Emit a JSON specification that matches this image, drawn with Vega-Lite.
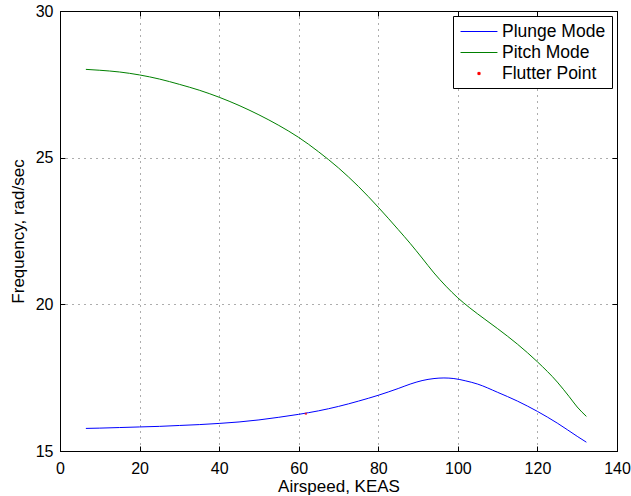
{
  "$schema": "https://vega.github.io/schema/vega-lite/v6.json",
  "width": 557,
  "height": 440,
  "autosize": {"type": "none"},
  "padding": {"left": 60, "top": 11, "right": 14, "bottom": 45},
  "background": "white",
  "config": {
    "view": {"stroke": "black", "strokeWidth": 1},
    "font": "Liberation Sans",
    "axis": {
      "domainColor": "black",
      "tickColor": "black",
      "tickSize": -5,
      "labelColor": "black",
      "labelFontSize": 16,
      "labelFont": "Liberation Sans",
      "titleFont": "Liberation Sans",
      "titleFontSize": 17,
      "titleFontWeight": "normal",
      "titleColor": "black",
      "gridColor": "#333",
      "gridDash": [1, 5],
      "gridOpacity": 0.8
    },
    "legend": {
      "labelFont": "Liberation Sans",
      "labelFontSize": 17.5,
      "labelColor": "black"
    }
  },
  "data": {
    "values": [
      {"airspeed": 6.5, "freq": 15.77, "series": "Plunge Mode"},
      {"airspeed": 10, "freq": 15.78, "series": "Plunge Mode"},
      {"airspeed": 15, "freq": 15.80, "series": "Plunge Mode"},
      {"airspeed": 20, "freq": 15.82, "series": "Plunge Mode"},
      {"airspeed": 25, "freq": 15.84, "series": "Plunge Mode"},
      {"airspeed": 30, "freq": 15.87, "series": "Plunge Mode"},
      {"airspeed": 35, "freq": 15.90, "series": "Plunge Mode"},
      {"airspeed": 40, "freq": 15.94, "series": "Plunge Mode"},
      {"airspeed": 45, "freq": 15.99, "series": "Plunge Mode"},
      {"airspeed": 50, "freq": 16.06, "series": "Plunge Mode"},
      {"airspeed": 55, "freq": 16.15, "series": "Plunge Mode"},
      {"airspeed": 60, "freq": 16.25, "series": "Plunge Mode"},
      {"airspeed": 65, "freq": 16.37, "series": "Plunge Mode"},
      {"airspeed": 70, "freq": 16.52, "series": "Plunge Mode"},
      {"airspeed": 75, "freq": 16.70, "series": "Plunge Mode"},
      {"airspeed": 80, "freq": 16.90, "series": "Plunge Mode"},
      {"airspeed": 85, "freq": 17.13, "series": "Plunge Mode"},
      {"airspeed": 88, "freq": 17.28, "series": "Plunge Mode"},
      {"airspeed": 91, "freq": 17.40, "series": "Plunge Mode"},
      {"airspeed": 94, "freq": 17.47, "series": "Plunge Mode"},
      {"airspeed": 96.5, "freq": 17.49, "series": "Plunge Mode"},
      {"airspeed": 99, "freq": 17.47, "series": "Plunge Mode"},
      {"airspeed": 102, "freq": 17.39, "series": "Plunge Mode"},
      {"airspeed": 105, "freq": 17.28, "series": "Plunge Mode"},
      {"airspeed": 110, "freq": 17.00, "series": "Plunge Mode"},
      {"airspeed": 115, "freq": 16.70, "series": "Plunge Mode"},
      {"airspeed": 120, "freq": 16.35, "series": "Plunge Mode"},
      {"airspeed": 125, "freq": 15.95, "series": "Plunge Mode"},
      {"airspeed": 130, "freq": 15.50, "series": "Plunge Mode"},
      {"airspeed": 132.3, "freq": 15.30, "series": "Plunge Mode"},
      {"airspeed": 6.5, "freq": 28.01, "series": "Pitch Mode"},
      {"airspeed": 10, "freq": 27.98, "series": "Pitch Mode"},
      {"airspeed": 15, "freq": 27.92, "series": "Pitch Mode"},
      {"airspeed": 20, "freq": 27.82, "series": "Pitch Mode"},
      {"airspeed": 25, "freq": 27.68, "series": "Pitch Mode"},
      {"airspeed": 30, "freq": 27.50, "series": "Pitch Mode"},
      {"airspeed": 35, "freq": 27.30, "series": "Pitch Mode"},
      {"airspeed": 40, "freq": 27.06, "series": "Pitch Mode"},
      {"airspeed": 45, "freq": 26.78, "series": "Pitch Mode"},
      {"airspeed": 50, "freq": 26.46, "series": "Pitch Mode"},
      {"airspeed": 55, "freq": 26.10, "series": "Pitch Mode"},
      {"airspeed": 60, "freq": 25.69, "series": "Pitch Mode"},
      {"airspeed": 65, "freq": 25.20, "series": "Pitch Mode"},
      {"airspeed": 70, "freq": 24.65, "series": "Pitch Mode"},
      {"airspeed": 75, "freq": 24.02, "series": "Pitch Mode"},
      {"airspeed": 80, "freq": 23.31, "series": "Pitch Mode"},
      {"airspeed": 85, "freq": 22.55, "series": "Pitch Mode"},
      {"airspeed": 88, "freq": 22.08, "series": "Pitch Mode"},
      {"airspeed": 91, "freq": 21.58, "series": "Pitch Mode"},
      {"airspeed": 94, "freq": 21.07, "series": "Pitch Mode"},
      {"airspeed": 97, "freq": 20.62, "series": "Pitch Mode"},
      {"airspeed": 100, "freq": 20.22, "series": "Pitch Mode"},
      {"airspeed": 103, "freq": 19.88, "series": "Pitch Mode"},
      {"airspeed": 106.8, "freq": 19.49, "series": "Pitch Mode"},
      {"airspeed": 110, "freq": 19.17, "series": "Pitch Mode"},
      {"airspeed": 115, "freq": 18.64, "series": "Pitch Mode"},
      {"airspeed": 120, "freq": 18.04, "series": "Pitch Mode"},
      {"airspeed": 125, "freq": 17.35, "series": "Pitch Mode"},
      {"airspeed": 128, "freq": 16.85, "series": "Pitch Mode"},
      {"airspeed": 130, "freq": 16.50, "series": "Pitch Mode"},
      {"airspeed": 132.3, "freq": 16.18, "series": "Pitch Mode"},
      {"airspeed": 61.8, "freq": 16.27, "series": "Flutter Point"}
    ]
  },
  "layer": [
    {
      "transform": [{"filter": "datum.series !== 'Flutter Point'"}],
      "mark": {"type": "line", "strokeWidth": 1, "interpolate": "monotone", "clip": true},
      "encoding": {
        "x": {
          "field": "airspeed", "type": "quantitative",
          "scale": {"domain": [0, 140], "nice": false, "zero": false},
          "axis": {"title": "Airspeed, KEAS", "values": [0, 20, 40, 60, 80, 100, 120, 140], "labelPadding": 14, "titlePadding": 2, "labelFlush": false}
        },
        "y": {
          "field": "freq", "type": "quantitative",
          "scale": {"domain": [15, 30], "nice": false, "zero": false},
          "axis": {"title": "Frequency, rad/sec", "values": [15, 20, 25, 30], "labelPadding": 12, "titlePadding": 8, "labelFlush": false}
        },
        "detail": {"field": "series"},
        "color": {
          "field": "series", "type": "nominal",
          "scale": {"domain": ["Plunge Mode", "Pitch Mode", "Flutter Point"], "range": ["#0000ff", "#008000", "#ff0000"]},
          "legend": {
            "title": null,
            "orient": "top-right",
            "offset": 5,
            "strokeColor": "black",
            "fillColor": "white",
            "padding": 6,
            "symbolSize": 324,
            "symbolOffset": 10.5,
            "symbolStrokeWidth": 1,
            "rowPadding": 3,
            "labelOffset": 13.5,
            "encode": {
              "symbols": {
                "update": {
                  "fill": {"scale": "color", "field": "value"},
                  "stroke": {"scale": "color", "field": "value"},
                  "strokeWidth": {"value": 1}
                }
              }
            }
          }
        },
        "shape": {
          "field": "series", "type": "nominal",
          "scale": {"domain": ["Plunge Mode", "Pitch Mode", "Flutter Point"], "range": ["M-2.05,0H2.05", "M-2.05,0H2.05", "M-0.12,-0.12H0.12V0.12H-0.12Z"]},
          "legend": null
        }
      }
    },
    {
      "transform": [{"filter": "datum.series === 'Flutter Point'"}],
      "mark": {"type": "point", "filled": true, "size": 324, "strokeWidth": 0},
      "encoding": {
        "x": {
          "field": "airspeed", "type": "quantitative",
          "axis": {"orient": "top", "labels": false, "title": null, "grid": false, "values": [0, 20, 40, 60, 80, 100, 120, 140]}
        },
        "y": {
          "field": "freq", "type": "quantitative",
          "axis": {"orient": "right", "labels": false, "title": null, "grid": false, "values": [15, 20, 25, 30]}
        },
        "color": {"field": "series", "type": "nominal"},
        "shape": {"field": "series", "type": "nominal"}
      }
    }
  ],
  "resolve": {"axis": {"x": "independent", "y": "independent"}}
}
